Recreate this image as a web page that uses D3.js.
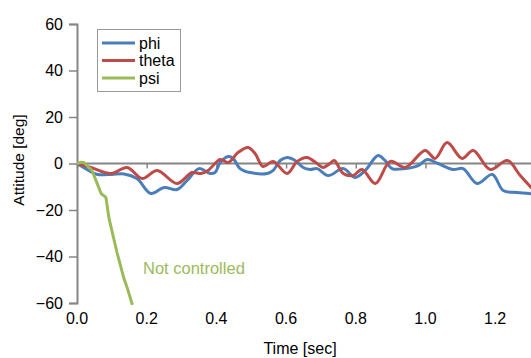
<!DOCTYPE html>
<html><head><meta charset="utf-8">
<script src="https://cdn.jsdelivr.net/npm/d3@7"></script>
<style>body{margin:0;background:#fff}svg{display:block;font-family:"Liberation Sans",Arial,sans-serif}</style>
</head><body>
<script>
const xTicks = [0, 0.2, 0.4, 0.6, 0.8, 1.0, 1.2];
const yTicks = [-60, -40, -20, 0, 20, 40, 60];
const seriesNames = ["phi", "theta", "psi"];
const seriesColors = ["#4A7EBB", "#BE4B48", "#9BBB59"];
const phiT = [0,0.049,0.063,0.100,0.135,0.172,0.212,0.250,0.287,0.316,0.350,0.382,0.396,0.411,0.434,0.448,0.468,0.497,0.546,0.563,0.583,0.603,0.626,0.649,0.669,0.689,0.721,0.764,0.798,0.827,0.864,0.884,0.904,0.942,0.979,1.005,1.036,1.080,1.108,1.148,1.192,1.223,1.263,1.303];
const phiV = [0,-4.2,-4.8,-4.7,-4.5,-6.5,-12.9,-10.3,-11.2,-7.3,-2.2,-4.3,-3.9,0.4,3.0,2.2,-2.2,-3.9,-4.3,-3.0,1.3,2.6,1.3,-1.7,-2.6,-2.2,-5.2,-2.2,-6.0,-3.0,3.4,1.3,-2.2,-2.2,-0.9,1.7,0,-2.6,-2.2,-8.6,-4.7,-11.6,-12.5,-13.0];
const thetaT = [0,0.040,0.098,0.144,0.187,0.230,0.287,0.330,0.356,0.376,0.411,0.434,0.462,0.491,0.511,0.534,0.563,0.603,0.632,0.660,0.689,0.706,0.726,0.738,0.764,0.792,0.818,0.856,0.899,0.942,0.999,1.028,1.062,1.105,1.137,1.186,1.235,1.272,1.303];
const thetaV = [0,-1.7,-4.3,-1.7,-6.5,-3.0,-8.6,-3.9,-4.3,-3.0,1.7,0.4,4.7,6.9,4.3,-1.3,0.9,-4.3,0.9,2.6,0,-1.7,0,1.3,-4.3,-5.2,-2.6,-8.6,0.9,-1.7,5.6,2.2,9.0,2.2,5.6,-2.6,1.3,-5.2,-10.3];
const psiT = [0,0.010,0.020,0.043,0.057,0.069,0.083,0.092,0.115,0.135,0.144,0.158];
const psiV = [0,0.5,0.4,-3.0,-8.2,-12.9,-14.6,-23.7,-38.4,-49.6,-53.4,-60.3];
const annotation = "Not controlled";

const W = 531, H = 358;
const FS = 16;
const svg = d3.select("body").append("svg").attr("width", W).attr("height", H);
const x = d3.scaleLinear().domain([0, 1.3]).range([77, 530]);
const y = d3.scaleLinear().domain([-60, 60]).range([303, 24]);
const axisColor = "#868686";

svg.append("defs").append("clipPath").attr("id", "clip")
  .append("rect").attr("x", 77).attr("y", 0).attr("width", W - 77).attr("height", 305);

// y axis
const ya = svg.append("g").attr("transform", "translate(77,0)")
  .call(d3.axisLeft(y).tickValues(yTicks).tickFormat(d3.format("d")).tickSize(8).tickPadding(6));
ya.select(".domain").attr("stroke", axisColor).attr("stroke-width", 2);
ya.selectAll(".tick line").attr("stroke", axisColor).attr("stroke-width", 1.5);
ya.selectAll("text").attr("font-size", FS).attr("fill", "#000").attr("font-family", "Liberation Sans, Arial, sans-serif");

// x axis at zero line
const xa = svg.append("g").attr("transform", `translate(0,${y(0)})`)
  .call(d3.axisBottom(x).tickValues(xTicks).tickSize(5).tickFormat(""));
xa.select(".domain").attr("stroke", axisColor).attr("stroke-width", 2).attr("d", `M77,0H${W}`);
xa.selectAll(".tick line").attr("stroke", axisColor).attr("stroke-width", 1.5);

// x tick labels at bottom
svg.append("g").selectAll("text").data(xTicks).join("text")
  .attr("x", d => x(d)).attr("y", 324).attr("text-anchor", "middle")
  .attr("font-size", FS).text(d => d3.format(".1f")(d));

// axis titles
svg.append("text").attr("x", 300).attr("y", 354).attr("text-anchor", "middle")
  .attr("font-size", FS).text("Time [sec]");
svg.append("text").attr("transform", "translate(24,160) rotate(-90)").attr("text-anchor", "middle")
  .attr("font-size", 15.5).text("Attitude [deg]");

// lines
const series = [
  {name: seriesNames[0], t: phiT, v: phiV, color: seriesColors[0], curve: d3.curveCatmullRom.alpha(0.5)},
  {name: seriesNames[1], t: thetaT, v: thetaV, color: seriesColors[1], curve: d3.curveCatmullRom.alpha(0.5)},
  {name: seriesNames[2], t: psiT, v: psiV, color: seriesColors[2], curve: d3.curveLinear}
];
const g = svg.append("g").attr("clip-path", "url(#clip)");
series.forEach(s => {
  const line = d3.line().x((d, i) => x(s.t[i])).y(d => y(d)).curve(s.curve);
  g.append("path").attr("d", line(s.v)).attr("fill", "none")
    .attr("stroke", s.color).attr("stroke-width", 3).attr("stroke-linejoin", "round").attr("stroke-linecap", "round");
});

// annotation
svg.append("text").attr("x", 143).attr("y", 274).attr("font-size", 16.5)
  .attr("fill", seriesColors[2]).text(annotation);

// legend
const lg = svg.append("g");
lg.append("rect").attr("x", 97.5).attr("y", 29.5).attr("width", 83).attr("height", 62)
  .attr("fill", "#fff").attr("stroke", "#999").attr("stroke-width", 1);
seriesNames.forEach((n, i) => {
  const cy = 43 + i * 17.5;
  lg.append("line").attr("x1", 102).attr("x2", 135).attr("y1", cy).attr("y2", cy)
    .attr("stroke", seriesColors[i]).attr("stroke-width", 3);
  lg.append("text").attr("x", 139).attr("y", cy + 5.5).attr("font-size", FS).text(n);
});
</script>
</body></html>
